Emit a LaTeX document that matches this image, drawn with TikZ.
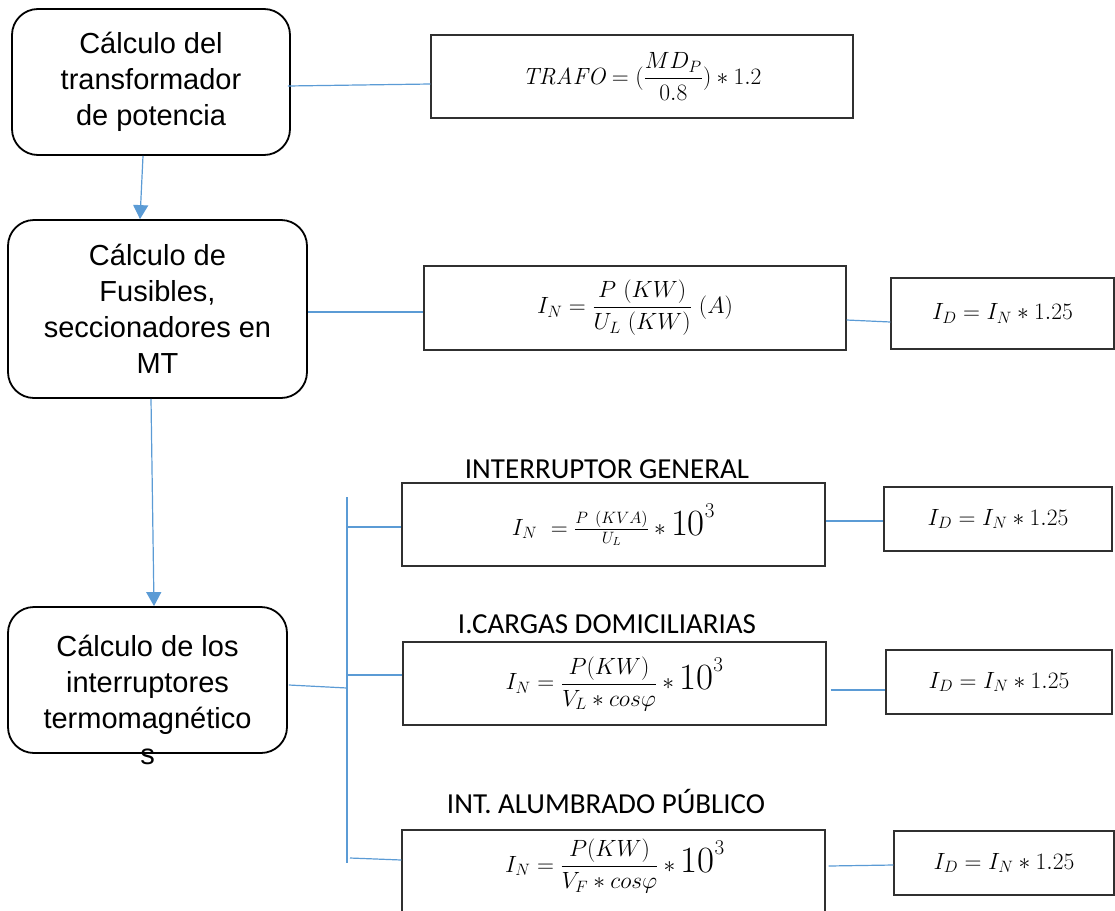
\RequirePackage{fix-cm}
\documentclass[tikz,border=0pt]{standalone}
\usepackage{amsmath}
\usepackage{fontspec}
\newfontfamily\arialf{Liberation Sans}
\newfontfamily\calf{Carlito}
\usetikzlibrary{arrows.meta,calc}
\definecolor{conn}{HTML}{5B9BD5}
\definecolor{frm}{HTML}{303030}
\newcommand\tenthree{\mbox{\fontsize{37}{37}\selectfont 10}^{\mbox{\fontsize{21}{21}\selectfont 3}}}
\tikzset{
  rbox/.style={draw=black, line width=1.8pt, rounded corners=26pt, align=center, inner sep=0pt,
    font=\arialf\fontsize{29}{36}\selectfont},
  btext/.style={align=center, inner sep=0pt, font=\arialf\fontsize{29}{36}\selectfont},
  fbox/.style={draw=frm, line width=1.1pt, inner sep=0pt, font=\fontsize{23.5}{28}\selectfont},
  ftext/.style={inner sep=0pt, font=\fontsize{23.5}{28}\selectfont},
  lbl/.style={inner sep=0pt, anchor=base, font=\calf\fontsize{29}{34}\selectfont},
  conn/.style={draw=conn, line width=1.2pt},
  arr/.style={conn, -{Triangle[width=15pt,length=14pt]}}
}
\begin{document}
\begin{tikzpicture}[x=1pt,y=-1pt]
\useasboundingbox (0,0) rectangle (1115,910);
% rounded process boxes
\node[rbox, minimum width=278pt, minimum height=146pt] (A) at (151,82) {Cálculo del\\transformador\\de potencia};
\node[rbox, minimum width=299pt, minimum height=178pt] (B) at (157.5,309) {Cálculo de\\Fusibles,\\seccionadores en\\MT};
\node[rbox, minimum width=279pt, minimum height=146pt] (C) at (147.5,680) {};
\node[btext] (Ct) at (147.5,700) {Cálculo de los\\interruptores\\termomagnético\\s};
% formula boxes
\node[fbox, minimum width=422pt, minimum height=83pt] (T) at (642,76.5) {$\mathit{TRAFO} = (\dfrac{MD_P}{0.8}) * 1.2$};
\node[fbox, minimum width=422pt, minimum height=84pt] (IN) at (635,308) {$I_N = \dfrac{P\ (KW)}{U_L\ (KW)}\ (A)$};
\node[fbox, minimum width=223pt, minimum height=71pt] (D1) at (1002.5,313.5) {$I_D = I_N * 1.25$};
\node[lbl] (LG) at (607,478) {INTERRUPTOR GENERAL};
\node[fbox, minimum width=423pt, minimum height=83pt] (IG) at (613.5,524.5) {$I_N\ = \frac{P\ (KVA)}{U_L} * \tenthree$};
\node[fbox, minimum width=228pt, minimum height=64pt] (D2) at (998,519) {$I_D = I_N * 1.25$};
\node[lbl] (LC) at (607,633) {I.CARGAS DOMICILIARIAS};
\node[fbox, minimum width=423pt, minimum height=83pt] (IC) at (614.5,683.5) {$I_N = \dfrac{P(KW)}{V_L * cos\varphi} * \tenthree$};
\node[fbox, minimum width=226pt, minimum height=64pt] (D3) at (999,682) {$I_D = I_N * 1.25$};
\node[lbl] (LA) at (606,813) {INT. ALUMBRADO PÚBLICO};
\node[fbox, minimum width=423pt, minimum height=90pt] (IA) at (613.5,875) {};
\node[ftext] (IAt) at (615,866) {$I_N = \dfrac{P(KW)}{V_F * cos\varphi} * \tenthree$};
\node[fbox, minimum width=220pt, minimum height=64pt] (D4) at (1004,863) {$I_D = I_N * 1.25$};
% connectors
\draw[arr] ($(A.south)+(-8,0)$) -- ($(B.north)+(-17.5,0)$);
\draw[arr] ($(B.south)+(-6.5,0)$) -- ($(C.north)+(6.5,0)$);
\draw[conn] ($(A.east)+(-3,4)$) -- ($(T.west)+(0,7.5)$);
\draw[conn] ($(B.east)+(0,3)$) -- ($(IN.west)+(0,4)$);
\draw[conn] ($(IN.east)+(0,12)$) -- ($(D1.west)+(0,8.5)$);
\coordinate (bt) at (347,497);
\coordinate (bb) at (347,863);
\coordinate (bc) at (347,688);
\coordinate (b1) at (347,527);
\coordinate (b2) at (347,675);
\coordinate (b3) at (350,858);
\draw[conn] (bt) -- (bb);
\draw[conn] ($(C.east)+(1,5)$) -- (bc);
\draw[conn] (b1) -- ($(IG.west)+(0,2.5)$);
\draw[conn] (b2) -- ($(IC.west)+(0,-8.5)$);
\draw[conn] (b3) -- ($(IA.west)+(0,-15)$);
\draw[conn] ($(IG.east)+(0,-3.5)$) -- ($(D2.west)+(0,2)$);
\draw[conn] ($(IC.east)+(4,6.5)$) -- ($(D3.west)+(0,8)$);
\draw[conn] ($(IA.east)+(3,-9)$) -- ($(D4.west)+(0,2)$);
\end{tikzpicture}
\end{document}
